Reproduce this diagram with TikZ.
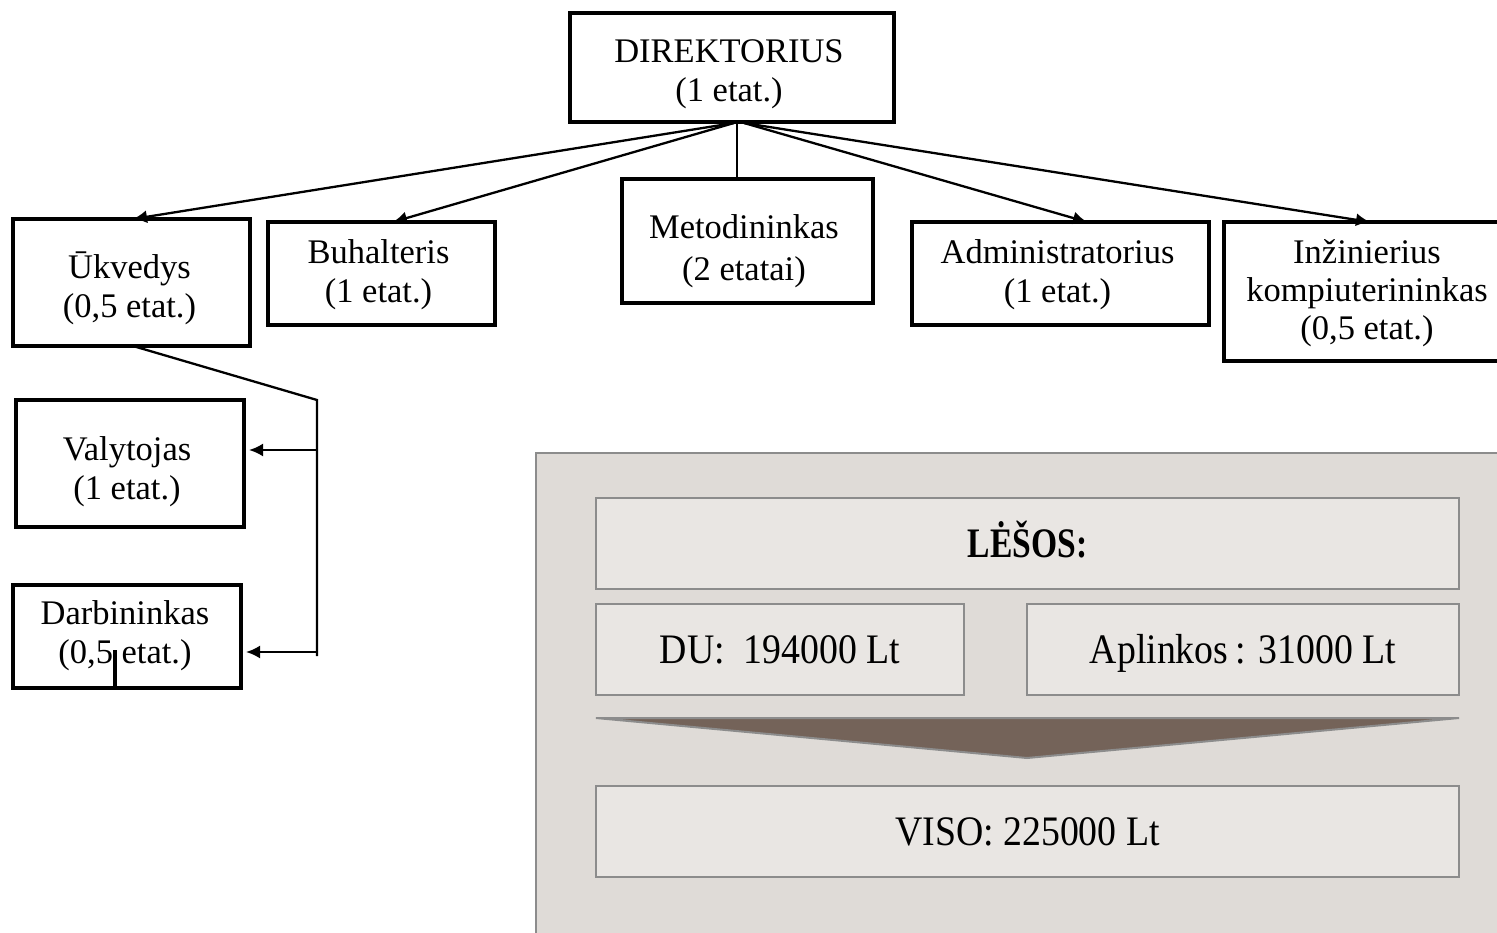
\documentclass[tikz,border=0pt]{standalone}
\usepackage{fontspec}
\setmainfont{Liberation Serif}
\newfontfamily\panelfont[FakeStretch=0.9]{Liberation Serif}
\newfontfamily\panelbold[FakeStretch=0.8]{Liberation Serif}
\usetikzlibrary{arrows.meta,calc}
\definecolor{panelbg}{RGB}{223,219,215}
\definecolor{cellbg}{RGB}{233,230,227}
\definecolor{cellline}{RGB}{140,140,140}
\definecolor{arrowfill}{RGB}{116,99,89}
\begin{document}
\begin{tikzpicture}[x=1pt,y=-1pt,
  orgbox/.style={draw=black,line width=3.5pt,fill=white,inner sep=0pt,outer sep=0pt},
  orgtext/.style={inner sep=0pt,align=center,font=\fontsize{34.5}{39}\selectfont},
  link/.style={line width=2.3pt},
  arr/.style={line width=2.3pt,-{Latex[length=14pt,width=13pt]}},
  cell/.style={draw=cellline,line width=2pt,fill=cellbg,inner sep=0pt,outer sep=0pt,align=center,
    text height=28pt,text depth=0pt,font=\panelfont\fontsize{42}{48}\selectfont}]
\useasboundingbox (0,0) rectangle (1497,933);
\clip (0,0) rectangle (1497,933);
% panel
\fill[panelbg,draw=cellline,line width=2pt] (536,453) rectangle (1520,960);
\node[cell,minimum width=863pt,minimum height=91pt,font=\panelbold\bfseries\fontsize{42}{48}\selectfont] (les) at (1027.5,543.5) {LĖŠOS:};
\node[cell,minimum width=368pt,minimum height=91pt] (du) at (780,649.5) {DU:\ \ 194000 Lt};
\node[cell,minimum width=432pt,minimum height=91pt] (apl) at (1243,649.5) {Aplinkos\,: 31000 Lt};
\coordinate (tl) at (596,718);
\coordinate (tr) at (1459,718);
\coordinate (tip) at (1027,758);
\filldraw[fill=arrowfill,draw=cellline,line width=2pt] (tl) -- (tr) -- (tip) -- cycle;
\node[cell,minimum width=863pt,minimum height=91pt] (viso) at (1027.5,831.5) {VISO: 225000 Lt};
% org chart boxes
\node[orgbox,minimum width=324pt,minimum height=109pt] (dir) at (732,67.5) {};
\node[orgbox,minimum width=237pt,minimum height=127pt] (ukv) at (131.5,282.5) {};
\node[orgbox,minimum width=227pt,minimum height=103pt] (buh) at (381.5,273.5) {};
\node[orgbox,minimum width=251pt,minimum height=124pt] (met) at (747.5,241) {};
\node[orgbox,minimum width=297pt,minimum height=103pt] (adm) at (1060.5,273.5) {};
\node[orgbox,minimum width=290pt,minimum height=139pt] (inz) at (1369,291.5) {};
\node[orgbox,minimum width=228pt,minimum height=127pt] (val) at (130,463.5) {};
\node[orgbox,minimum width=228pt,minimum height=103pt] (dar) at (127,636.5) {};
% texts
\node[orgtext] (dir-t) at ([shift={(-3,6.5)}]dir.center) {DIREKTORIUS\\(1 etat.)};
\node[orgtext] (ukv-t) at ([shift={(-2,5.5)}]ukv.center) {Ūkvedys\\(0,5 etat.)};
\node[orgtext] (buh-t) at ([shift={(-3,1)}]buh.center) {Buhalteris\\(1 etat.)};
\node[orgtext,font=\fontsize{34.5}{42}\selectfont] (met-t) at ([shift={(-3.5,10.5)}]met.center) {Metodininkas\\(2 etatai)};
\node[orgtext] (adm-t) at ([shift={(-3,1)}]adm.center) {Administratorius\\(1 etat.)};
\node[orgtext,font=\fontsize{34.5}{38}\selectfont] (inz-t) at ([shift={(-2,2)}]inz.center) {Inžinierius\\kompiuterininkas\\(0,5 etat.)};
\node[orgtext] (val-t) at ([shift={(-3,8.5)}]val.center) {Valytojas\\(1 etat.)};
\node[orgtext] (dar-t) at ([shift={(-2,-1)}]dar.center) {Darbininkas\\(0,5 etat.)};
% connectors from director
\coordinate (dl) at (734,123);
\coordinate (dr) at (744,123);
\coordinate (dm) at (737,123);
\draw[arr] (dl) -- ([xshift=1.5pt]ukv.north);
\draw[arr] (dl) -- ([xshift=11.5pt]buh.north);
\draw[link] (dm) -- (dm |- met.north);
\draw[arr] (dr) -- ([xshift=26.5pt]adm.north);
\draw[arr] (dr) -- ([xshift=1pt]inz.north);
% Ukvedys branch
\coordinate (bt) at (317,400);
\coordinate (bv) at (317,450);
\coordinate (bd) at (317,652);
\coordinate (bb) at (317,656);
\draw[link] ([xshift=1.5pt]ukv.south) -- (bt) -- (bb);
\draw[arr] (bv) -- ([xshift=5pt]val.east |- bv);
\draw[arr] (bd) -- ([xshift=5pt]dar.east |- bd);
% small mark inside Darbininkas
\coordinate (mk) at (115,650);
\draw[line width=4pt] (mk) -- (mk |- dar.south);
\end{tikzpicture}
\end{document}
